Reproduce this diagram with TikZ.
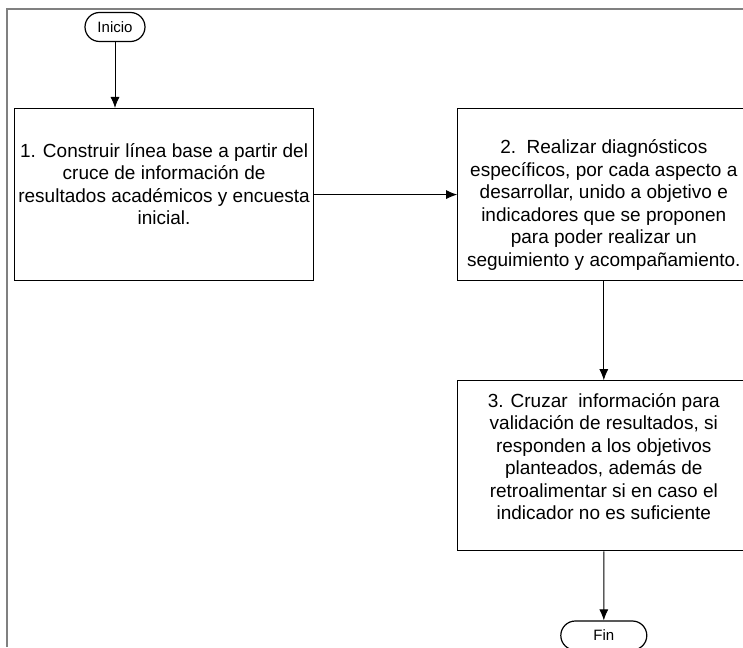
\documentclass[tikz,border=0pt]{standalone}
\usepackage{fontspec}
\setmainfont{Liberation Sans}
\usetikzlibrary{positioning, arrows.meta, shapes.misc}

\begin{document}
\begin{tikzpicture}[node distance=66pt,
    font=\fontsize{19}{22.5}\selectfont,
    line width=0.9pt, >={Latex[length=11pt,width=9pt]},
    paso/.style={draw, line width=1.2pt, align=center, minimum height=172pt, inner sep=0pt},
    term/.style={draw, rounded rectangle, line width=1.2pt, font=\fontsize{15}{17}\selectfont, minimum height=29pt, inner sep=0pt}]
    \useasboundingbox (0,0) rectangle (743pt,-647pt);
    \draw[gray, line width=2.4pt] (7pt,-647pt) |- (743pt,-9pt);%marco
    \node[term, minimum width=60pt] (inicio) at (115pt,-27pt) {Inicio};
    \node[paso, minimum width=299pt, anchor=north west] (paso1) at (14pt,-108pt) {1. Construir línea base a partir del\\ cruce de información de\\ resultados académicos y encuesta\\ inicial.\\[-1.5pt]};
    \node[paso, minimum width=292pt, right=143pt of paso1] (paso2) {\mbox{}\\[12pt] 2.\ \ Realizar diagnósticos\\ específicos, por cada aspecto a\\ desarrollar, unido a objetivo e\\ indicadores que se proponen\\ para poder realizar un\\ seguimiento y acompañamiento.};
    \node[paso, minimum width=292pt, minimum height=170pt, below=99pt of paso2] (paso3) {3. Cruzar\ \ información para\\ validación de resultados, si\\ responden a los objetivos\\ planteados, además de\\ retroalimentar si en caso el\\ indicador no es suficiente\\[-3.5pt]};
    \node[term, minimum width=86pt, below=69pt of paso3] (fin) {Fin};
    \draw[->] (inicio)--(inicio|-paso1.north);
    \draw[->] (paso1)--(paso2);
    \draw[->] (paso2)--(paso3);
    \draw[->] (paso3)--(fin);
\end{tikzpicture}
\end{document}
